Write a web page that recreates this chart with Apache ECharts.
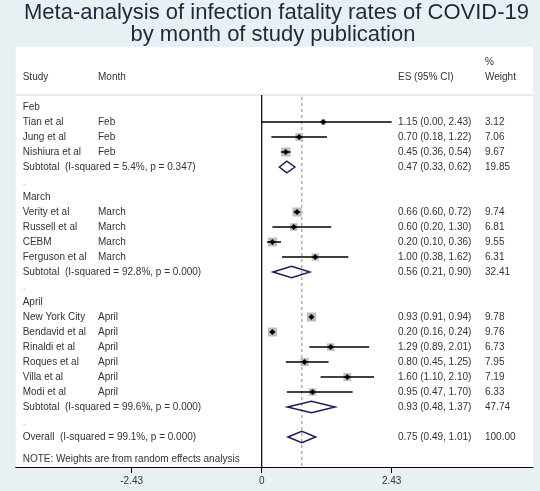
<!DOCTYPE html>
<html><head><meta charset="utf-8">
<script src="https://cdn.jsdelivr.net/npm/echarts@6/dist/echarts.min.js"></script>
<style>html,body{margin:0;padding:0;background:#e9f0f3}#c{width:540px;height:491px}</style>
</head><body><div id="c"></div>
<script>
const titleLines = ['Meta-analysis of infection fatality rates of COVID-19', 'by month of study publication'];
const headerStudy = 'Study';
const headerMonth = 'Month';
const headerES = 'ES (95% CI)';
const headerWeight = ['%', 'Weight'];
const groups = ['Feb', 'March', 'April'];
const studyNames = ['Tian et al', 'Jung et al', 'Nishiura et al', 'Verity et al', 'Russell et al', 'CEBM', 'Ferguson et al', 'New York City', 'Bendavid et al', 'Rinaldi et al', 'Roques et al', 'Villa et al', 'Modi et al'];
const studyMonths = ['Feb', 'Feb', 'Feb', 'March', 'March', 'March', 'March', 'April', 'April', 'April', 'April', 'April', 'April'];
const studyGroup = [0, 0, 0, 1, 1, 1, 1, 2, 2, 2, 2, 2, 2];
const studyES = [1.15, 0.70, 0.45, 0.66, 0.60, 0.20, 1.00, 0.93, 0.20, 1.29, 0.80, 1.60, 0.95];
const studyLo = [0.00, 0.18, 0.36, 0.60, 0.20, 0.10, 0.38, 0.91, 0.16, 0.89, 0.45, 1.10, 0.47];
const studyHi = [2.43, 1.22, 0.54, 0.72, 1.30, 0.36, 1.62, 0.94, 0.24, 2.01, 1.25, 2.10, 1.70];
const studyWeight = [3.12, 7.06, 9.67, 9.74, 6.81, 9.55, 6.31, 9.78, 9.76, 6.73, 7.95, 7.19, 6.33];
const subLabels = ['Subtotal  (I-squared = 5.4%, p = 0.347)', 'Subtotal  (I-squared = 92.8%, p = 0.000)', 'Subtotal  (I-squared = 99.6%, p = 0.000)'];
const subES = [0.47, 0.56, 0.93];
const subLo = [0.33, 0.21, 0.48];
const subHi = [0.62, 0.90, 1.37];
const subWeight = [19.85, 32.41, 47.74];
const overallLabel = 'Overall  (I-squared = 99.1%, p = 0.000)';
const overallES = 0.75, overallLo = 0.49, overallHi = 1.01, overallWeight = 100.00;
const noteText = 'NOTE: Weights are from random effects analysis';
const xTicks = [-2.43, 0, 2.43];

// ---- build row layout ----
const rowItems = [];
rowItems.push({row: -3, type: 'header2'});
rowItems.push({row: -2, type: 'header'});
let r = 0;
groups.forEach((g, gi) => {
  rowItems.push({row: r++, type: 'group', gi});
  studyNames.forEach((s, si) => { if (studyGroup[si] === gi) rowItems.push({row: r++, type: 'study', si}); });
  rowItems.push({row: r++, type: 'sub', gi});
  rowItems.push({row: r++, type: 'blank'});
});
const overallRow = r++;
rowItems.push({row: overallRow, type: 'overall'});
rowItems.push({row: r + 0.5, type: 'note'});
const sepRow = -0.8;
const yMin = -4, yMax = 24;
const xMin = -4.598, xMax = 5.071;

const studyData = [], diamondData = [];
rowItems.forEach(it => {
  if (it.type === 'study') studyData.push([studyES[it.si], it.row, studyLo[it.si], studyHi[it.si], studyWeight[it.si]]);
  if (it.type === 'sub') diamondData.push([subES[it.gi], it.row, subLo[it.gi], subHi[it.gi]]);
  if (it.type === 'overall') diamondData.push([overallES, it.row, overallLo, overallHi]);
});

const FONT = '"Liberation Sans", Arial, sans-serif';
const TXT = '#333';
const colStudy = 22.7, colMonth = 98, colES = 398, colW = 485;
const f2 = v => v.toFixed(2);
const esText = (e, l, h) => f2(e) + ' (' + f2(l) + ', ' + f2(h) + ')';

function txt(x, y, s, color) {
  return {type: 'text', x, y, style: {text: s, fill: color || TXT, font: '10px ' + FONT, textVerticalAlign: 'middle', textAlign: 'left'}};
}

const chart = echarts.init(document.getElementById('c'), null, {renderer: 'canvas'});
chart.setOption({
  backgroundColor: '#e9f0f3',
  animation: false,
  graphic: [
    {type: 'text', x: 276.5, y: 13, style: {text: titleLines[0], fill: '#1d2a38', font: '22px ' + FONT, textAlign: 'center', textVerticalAlign: 'middle'}},
    {type: 'text', x: 273, y: 35, style: {text: titleLines[1], fill: '#1d2a38', font: '22px ' + FONT, textAlign: 'center', textVerticalAlign: 'middle'}}
  ],
  grid: {left: 15.7, right: 7, top: 47, bottom: 24, show: true, backgroundColor: '#fff', borderWidth: 0},
  xAxis: {
    type: 'value', min: xMin, max: xMax,
    axisLine: {show: true, onZero: false, lineStyle: {color: '#000', width: 1}},
    axisTick: {show: true, customValues: xTicks, length: 6, lineStyle: {color: '#000'}},
    axisLabel: {show: true, customValues: xTicks, margin: 9, color: TXT, fontSize: 10, fontFamily: FONT,
      formatter: v => (Math.abs(v) < 1e-9 ? '0' : v.toFixed(2))},
    splitLine: {show: false}
  },
  yAxis: {type: 'value', min: yMin, max: yMax, inverse: true, show: false},
  series: [
    { // reference lines
      type: 'custom', z: 3, silent: true,
      data: [[0, overallES]],
      renderItem(params, api) {
        const zt = api.coord([0, sepRow]), zb = api.coord([0, yMax]);
        const dt = api.coord([overallES, sepRow]), db = api.coord([overallES, yMax]);
        const sl = api.coord([xMin, sepRow]), sr = api.coord([xMax, sepRow]);
        return {type: 'group', children: [
          {type: 'line', shape: {x1: sl[0], y1: sl[1], x2: sr[0], y2: sr[1]}, style: {stroke: '#d4d4d4', lineWidth: 1}},
          {type: 'line', shape: {x1: dt[0], y1: dt[1] + 2, x2: db[0], y2: db[1]}, style: {stroke: '#8a8a8a', lineWidth: 1, lineDash: [3, 3]}},
          {type: 'line', shape: {x1: zt[0], y1: zt[1], x2: zb[0], y2: zb[1]}, style: {stroke: '#000', lineWidth: 1.2}}
        ]};
      }
    },
    { // studies
      type: 'custom', z: 4, silent: true,
      data: studyData,
      encode: {x: [0, 2, 3], y: 1},
      renderItem(params, api) {
        const es = api.value(0), row = api.value(1), lo = api.value(2), hi = api.value(3), w = api.value(4);
        const p = api.coord([es, row]), pl = api.coord([lo, row]), ph = api.coord([hi, row]);
        const s = 2.9 * Math.sqrt(w), d = 3;
        return {type: 'group', children: [
          {type: 'rect', shape: {x: p[0] - s / 2, y: p[1] - s / 2, width: s, height: s}, style: {fill: '#bdbdbd'}},
          {type: 'line', shape: {x1: pl[0], y1: pl[1], x2: ph[0], y2: ph[1]}, style: {stroke: '#000', lineWidth: 1.5}},
          {type: 'polygon', shape: {points: [[p[0] - d, p[1]], [p[0], p[1] - d], [p[0] + d, p[1]], [p[0], p[1] + d]]}, style: {fill: '#000'}}
        ]};
      }
    },
    { // pooled diamonds
      type: 'custom', z: 4, silent: true,
      data: diamondData,
      encode: {x: [0, 2, 3], y: 1},
      renderItem(params, api) {
        const es = api.value(0), row = api.value(1), lo = api.value(2), hi = api.value(3);
        const p = api.coord([es, row]), pl = api.coord([lo, row]), ph = api.coord([hi, row]);
        const h = 5.8;
        return {type: 'polygon', shape: {points: [[pl[0], pl[1]], [p[0], p[1] - h], [ph[0], ph[1]], [p[0], p[1] + h]]},
          style: {fill: 'none', stroke: '#1c1c5e', lineWidth: 1.5}};
      }
    },
    { // text columns
      type: 'custom', z: 5, silent: true,
      data: rowItems.map(it => [0, it.row]),
      renderItem(params, api) {
        const it = rowItems[params.dataIndex];
        const y = api.coord([0, it.row])[1];
        const c = [];
        if (it.type === 'header2') { c.push(txt(colW, y, headerWeight[0])); }
        else if (it.type === 'header') {
          c.push(txt(colStudy, y, headerStudy), txt(colMonth, y, headerMonth), txt(colES, y, headerES), txt(colW, y, headerWeight[1]));
        } else if (it.type === 'group') { c.push(txt(colStudy, y, groups[it.gi])); }
        else if (it.type === 'study') {
          const i = it.si;
          c.push(txt(colStudy, y, studyNames[i]), txt(colMonth, y, studyMonths[i]),
            txt(colES, y, esText(studyES[i], studyLo[i], studyHi[i])), txt(colW, y, f2(studyWeight[i])));
        } else if (it.type === 'sub') {
          const g = it.gi;
          c.push(txt(colStudy, y, subLabels[g]), txt(colES, y, esText(subES[g], subLo[g], subHi[g])), txt(colW, y, f2(subWeight[g])));
        } else if (it.type === 'blank') { c.push(txt(colStudy, y, '.', '#aaa')); }
        else if (it.type === 'overall') {
          c.push(txt(colStudy, y, overallLabel), txt(colES, y, esText(overallES, overallLo, overallHi)), txt(colW, y, f2(overallWeight)));
        } else if (it.type === 'note') { c.push(txt(colStudy, y, noteText)); }
        return {type: 'group', children: c};
      }
    }
  ]
});
</script></body></html>
